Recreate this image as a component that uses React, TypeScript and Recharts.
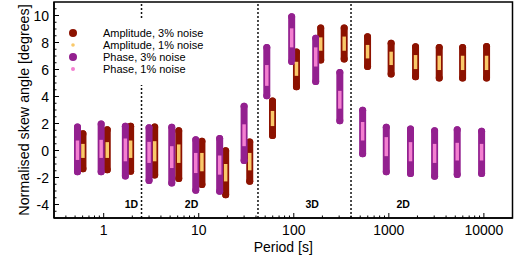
import {
  ComposedChart,
  Scatter,
  ErrorBar,
  XAxis,
  YAxis,
  ReferenceLine,
  ReferenceArea,
  ReferenceDot,
} from 'recharts';

// periods [s] (phase bars and amplitude bars are drawn slightly offset)
const phasePeriods = [0.53, 0.94, 1.69, 3.0, 5.2, 9.3, 16.6, 30, 52, 95, 170, 305, 530, 940, 1690, 3030, 5240, 9460]
const ampPeriods = [0.605, 1.09, 1.92, 3.44, 6.16, 10.8, 19.2, 34.4, 59.7, 106.7, 192, 339, 597, 1057, 1910, 3390, 5970, 10670]

// Amplitude, 3% noise
const amp3Low = [-1.36, -1.43, -1.53, -1.82, -2.08, -2.52, -3.27, -2.27, 1.12, 4.73, 6.71, 6.78, 6.22, 5.67, 5.47, 5.37, 5.37, 5.37]
const amp3High = [1.25, 1.53, 1.79, 1.75, 1.47, 0.68, -0.01, 0.63, 3.66, 7.3, 9.07, 9.07, 8.42, 7.95, 7.68, 7.63, 7.63, 7.71]
// Amplitude, 1% noise
const amp1Low = [-0.55, -0.55, -0.55, -0.8, -0.92, -1.54, -2.29, -1.47, 1.81, 5.53, 7.39, 7.39, 6.82, 6.33, 6.03, 5.96, 5.96, 5.96]
const amp1High = [0.49, 0.62, 0.74, 0.69, 0.45, -0.18, -1.0, -0.18, 2.93, 6.57, 8.38, 8.44, 7.82, 7.32, 7.07, 7.02, 7.02, 7.02]
// Phase, 3% noise
const phase3Low = [-1.58, -1.58, -1.88, -2.23, -2.4, -2.94, -3.02, -0.74, 4.06, 6.59, 5.12, 2.2, -0.24, -1.58, -1.71, -1.9, -1.78, -1.71]
const phase3High = [1.75, 1.97, 1.79, 1.68, 1.72, 0.8, 0.88, 3.28, 7.63, 9.91, 8.32, 5.77, 2.99, 1.72, 1.6, 1.47, 1.53, 1.42]
// Phase, 1% noise
const phase1Low = [-0.7, -0.55, -0.8, -0.92, -1.3, -1.67, -1.79, 0.32, 4.79, 7.64, 6.22, 3.1, 0.74, -0.42, -0.8, -0.92, -0.74, -0.74]
const phase1High = [0.74, 0.79, 0.89, 0.64, 0.32, -0.18, -0.37, 1.94, 6.33, 9.05, 7.64, 4.42, 2.11, 0.99, 0.62, 0.49, 0.57, 0.49]

const decades = [1, 10, 100, 1000, 10000]
const xTicks = [0.4, 0.5, 0.6, 0.7, 0.8, 0.9,
  1, 2, 3, 4, 5, 6, 7, 8, 9,
  10, 20, 30, 40, 50, 60, 70, 80, 90,
  100, 200, 300, 400, 500, 600, 700, 800, 900,
  1000, 2000, 3000, 4000, 5000, 6000, 7000, 8000, 9000, 10000]
const yLabels = [-4, -2, 0, 2, 4, 6, 8, 10]
const yTicks = [-4.5, -4, -3.5, -3, -2.5, -2, -1.5, -1, -0.5, 0, 0.5, 1, 1.5, 2, 2.5, 3, 3.5, 4, 4.5,
  5, 5.5, 6, 6.5, 7, 7.5, 8, 8.5, 9, 9.5, 10, 10.5]

const regionBounds = [2.5, 42, 400]
const regionLabels = [
  { x: 1.96, text: '1D' },
  { x: 8.4, text: '2D' },
  { x: 156, text: '3D' },
  { x: 1415, text: '2D' },
]

const FONT = '"Liberation Sans", Arial, Helvetica, sans-serif'

const colors = {
  amp3: '#8c1200',
  amp1: '#f9c96a',
  phase3: '#93208f',
  phase1: '#f37fd0',
}

const toRange = (periods: number[], low: number[], high: number[]) =>
  periods.map((p, i) => ({
    x: p,
    y: (low[i] + high[i]) / 2,
    err: [(high[i] - low[i]) / 2, (high[i] - low[i]) / 2],
  }))

const amp3Data = toRange(ampPeriods, amp3Low, amp3High)
const amp1Data = toRange(ampPeriods, amp1Low, amp1High)
const phase3Data = toRange(phasePeriods, phase3Low, phase3High)
const phase1Data = toRange(phasePeriods, phase1Low, phase1High)

const legendItems = [
  { label: 'Amplitude, 3% noise', color: colors.amp3, r: 4 },
  { label: 'Amplitude, 1% noise', color: colors.amp1, r: 1.8 },
  { label: 'Phase, 3% noise', color: colors.phase3, r: 4 },
  { label: 'Phase, 1% noise', color: colors.phase1, r: 2 },
]

const NoDot = () => <g />

const XTick = (props: any) => {
  const { x, y, payload } = props
  const major = decades.includes(payload.value)
  return (
    <g>
      <line x1={x} x2={x} y1={y} y2={y - (major ? 5 : 2.5)} stroke="#000" strokeWidth={1} />
      {major && (
        <text x={x} y={y + 17} textAnchor="middle" fontSize={14} fontFamily={FONT} fill="#000">
          {payload.value}
        </text>
      )}
    </g>
  )
}

const YTick = (props: any) => {
  const { x, y, payload } = props
  const major = yLabels.includes(payload.value)
  return (
    <g>
      <line x1={x} x2={x + (major ? 5 : 2.5)} y1={y} y2={y} stroke="#000" strokeWidth={1} />
      {major && (
        <text x={x - 5} y={y} dy="0.36em" textAnchor="end" fontSize={14} fontFamily={FONT} fill="#000">
          {payload.value}
        </text>
      )}
    </g>
  )
}

// legend sits inside the plot, top-left, on an opaque box (hides the top of the 1D/2D divider)
const CustomLegend = () => (
  <div
    style={{
      position: 'absolute',
      left: 60,
      top: 20,
      width: 150,
      height: 65,
      boxSizing: 'border-box',
      paddingLeft: 8,
      paddingTop: 7,
      background: '#fff',
      fontFamily: FONT,
      fontSize: 11,
      lineHeight: '12px',
      color: '#000',
      pointerEvents: 'none',
    }}
  >
    {legendItems.map((item, i) => (
      <div key={i} style={{ display: 'flex', alignItems: 'center', height: 12 }}>
        <svg width={10} height={12} style={{ flex: 'none' }}>
          <circle cx={5} cy={6} r={item.r} fill={item.color} />
        </svg>
        <span style={{ marginLeft: 25, whiteSpace: 'nowrap' }}>{item.label}</span>
      </div>
    ))}
  </div>
)

export default function App() {
  return (
    <div style={{ position: 'absolute', left: 0, top: 0, width: 514, height: 257 }}>
      <ComposedChart
        width={514}
        height={257}
        margin={{ top: 2, right: 1.5, bottom: 0, left: 0 }}
        style={{ fontFamily: FONT }}
      >
        <XAxis
          dataKey="x"
          type="number"
          scale="log"
          domain={[0.3, 20000]}
          ticks={xTicks}
          interval={0}
          tick={<XTick />}
          tickLine={false}
          tickSize={0}
          tickMargin={0}
          height={39}
          axisLine={{ stroke: '#000', strokeWidth: 1.5 }}
          allowDataOverflow
          label={(p: any) => {
            const vb = p.viewBox
            return (
              <text x={vb.x + vb.width / 2} y={252} textAnchor="middle" fontSize={14} fontFamily={FONT} fill="#000">
                Period [s]
              </text>
            )
          }}
        />
        <YAxis
          dataKey="y"
          type="number"
          domain={[-5, 11]}
          ticks={yTicks}
          interval={0}
          tick={<YTick />}
          tickLine={false}
          tickSize={0}
          tickMargin={0}
          width={54}
          axisLine={{ stroke: '#000', strokeWidth: 1.5 }}
          allowDataOverflow
          label={(p: any) => {
            const vb = p.viewBox
            const cy = vb.y + vb.height / 2
            return (
              <text
                x={0}
                y={0}
                transform={`translate(${vb.x + 24}, ${cy}) rotate(-90)`}
                textAnchor="middle"
                dominantBaseline="central"
                fontSize={14.3}
                fontFamily={FONT}
                fill="#000"
              >
                Normalised skew angle [degrees]
              </text>
            )
          }}
        />
        <ReferenceArea x1={0.3} x2={20000} y1={-5} y2={11} fill="none" stroke="#000" strokeWidth={1.5} ifOverflow="visible" />
        {regionBounds.map((b) => (
          <ReferenceLine key={b} x={b} stroke="#111" strokeWidth={1.5} strokeDasharray="2 2" />
        ))}
        {regionLabels.map((r, i) => (
          <ReferenceDot
            key={i}
            x={r.x}
            y={-4}
            r={0}
            fill="none"
            stroke="none"
            label={{ value: r.text, position: 'center', fontSize: 10.5, fontWeight: 'bold', fill: '#000', fontFamily: FONT }}
          />
        ))}
        <Scatter name="Amplitude, 3% noise" data={amp3Data} shape={<NoDot />} isAnimationActive={false}>
          <ErrorBar dataKey="err" direction="y" width={0} stroke={colors.amp3} strokeWidth={7} strokeLinecap="round" isAnimationActive={false} />
        </Scatter>
        <Scatter name="Phase, 3% noise" data={phase3Data} shape={<NoDot />} isAnimationActive={false}>
          <ErrorBar dataKey="err" direction="y" width={0} stroke={colors.phase3} strokeWidth={7} strokeLinecap="round" isAnimationActive={false} />
        </Scatter>
        <Scatter name="Amplitude, 1% noise" data={amp1Data} shape={<NoDot />} isAnimationActive={false}>
          <ErrorBar dataKey="err" direction="y" width={0} stroke={colors.amp1} strokeWidth={3.5} strokeLinecap="butt" isAnimationActive={false} />
        </Scatter>
        <Scatter name="Phase, 1% noise" data={phase1Data} shape={<NoDot />} isAnimationActive={false}>
          <ErrorBar dataKey="err" direction="y" width={0} stroke={colors.phase1} strokeWidth={3.5} strokeLinecap="butt" isAnimationActive={false} />
        </Scatter>
      </ComposedChart>
      <CustomLegend />
    </div>
  )
}
